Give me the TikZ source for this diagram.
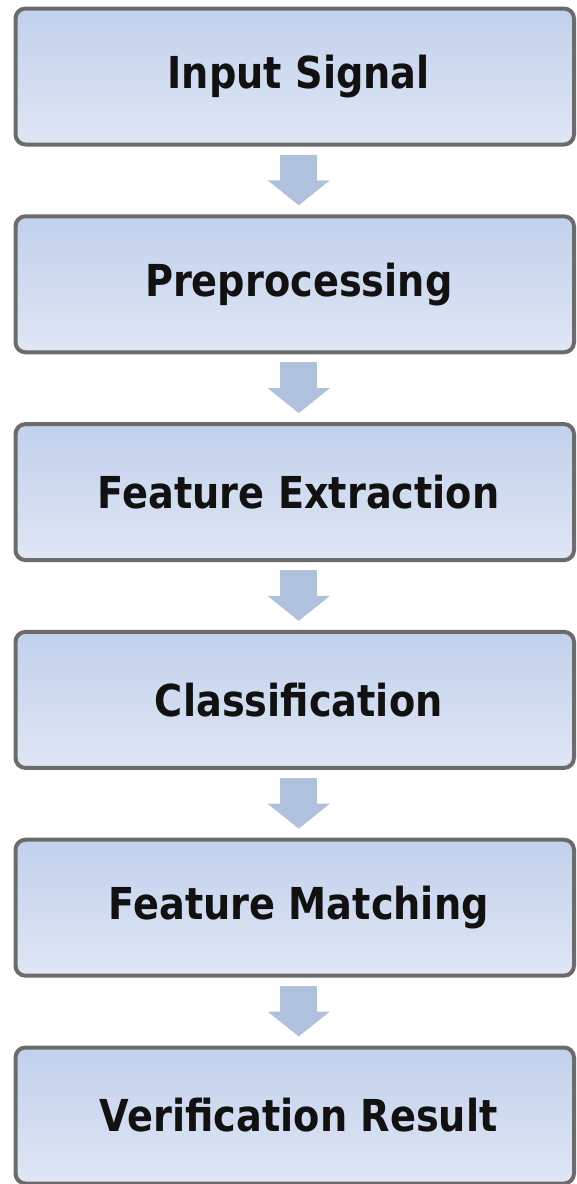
\documentclass[tikz,border=0pt]{standalone}
\usepackage{fontspec}
\newfontfamily\boxfont{DejaVu Sans}[FakeStretch=0.87]
\usepackage{tikz}
\usetikzlibrary{positioning,
        arrows.meta}
\usepackage{xcolor}
\definecolor{boxtop}{HTML}{C1D1EC}
\definecolor{boxbottom}{HTML}{E0E6F4}
\definecolor{boxline}{HTML}{6B6B6B}
\definecolor{flowblue}{HTML}{B0C1DD}
\definecolor{textdark}{HTML}{111111}

\begin{document}
\begin{tikzpicture}[x=1pt,y=1pt,
        stage/.style={rectangle,rounded corners=10pt,draw=boxline,line width=4pt,
                top color=boxtop,bottom color=boxbottom,
                minimum width=558.5pt,minimum height=136pt,inner sep=0pt,
                execute at begin node={\hspace*{8pt}},
                font=\boxfont\bfseries\fontsize{44}{50}\selectfont,text=textdark},
        flow/.style={draw=flowblue,line width=37pt,
                -{Triangle[length=25pt,width=61pt]},
                shorten <=8pt,shorten >=9pt}]
        \useasboundingbox (0,0) rectangle (576,-1184);
        \node [stage] (input) at (294.75,-76.5) {Input Signal};
        \node [stage] (prep) at (294.75,-284.3) {Preprocessing};
        \node [stage] (feat) at (294.75,-492.1) {Feature Extraction};
        \node [stage] (class) at (294.75,-699.9) {Classification};
        \node [stage] (match) at (294.75,-907.7) {Feature Matching};
        \node [stage] (result) at (294.75,-1115.5) {Verification Result};

        \draw [flow] ([xshift=4pt]input.south) -- ([xshift=4pt]prep.north);
        \draw [flow] ([xshift=4pt]prep.south) -- ([xshift=4pt]feat.north);
        \draw [flow] ([xshift=4pt]feat.south) -- ([xshift=4pt]class.north);
        \draw [flow] ([xshift=4pt]class.south) -- ([xshift=4pt]match.north);
        \draw [flow] ([xshift=4pt]match.south) -- ([xshift=4pt]result.north);
    \end{tikzpicture}
\end{document}
